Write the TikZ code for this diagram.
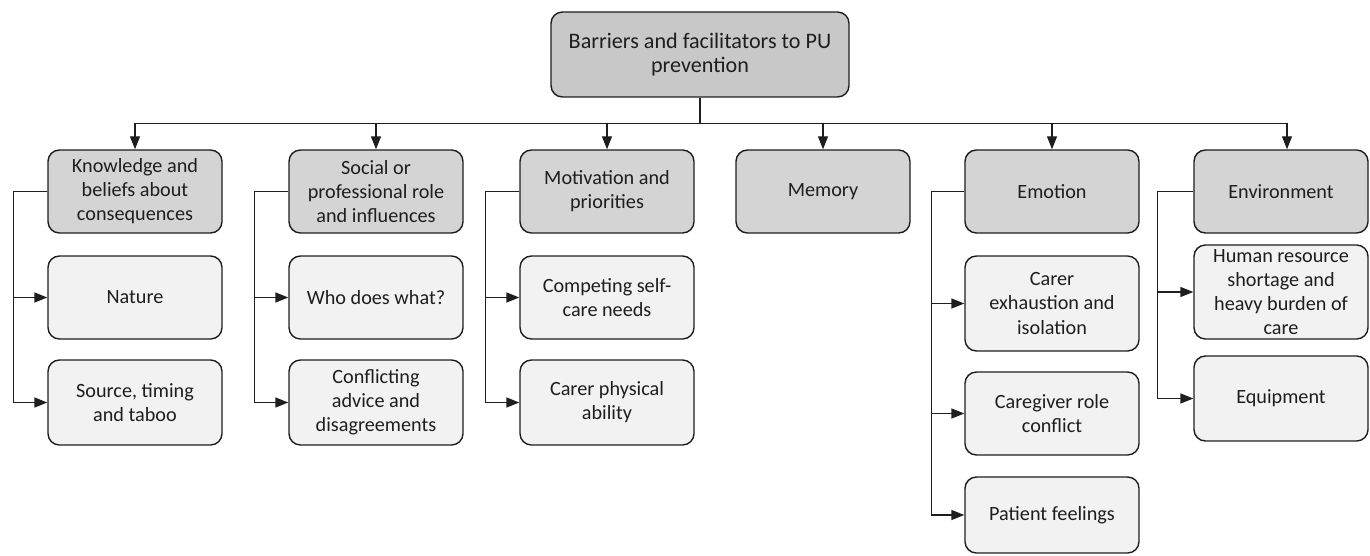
\documentclass[tikz,border=0pt]{standalone}
\usepackage{fontspec}
\setmainfont{Carlito}
\usetikzlibrary{arrows.meta,positioning}
\definecolor{ink}{RGB}{30,30,30}
\definecolor{topgray}{RGB}{200,200,200}
\definecolor{catgray}{RGB}{212,212,212}
\definecolor{subgray}{RGB}{242,242,242}
\tikzset{
  >={Triangle[length=2.6mm,width=2mm]},
  box/.style={draw=ink,fill=#1,rounded corners=6.5pt,line width=0.8pt,
    minimum width=34.8mm,align=center,font=\fontsize{11.5}{13.7}\selectfont,text=ink},
  box/.default=subgray,
  cat/.style={box=catgray,minimum height=16.6mm},
  sub/.style={box=subgray,minimum height=16.6mm},
  link/.style={->,line width=0.8pt,draw=ink},
}

\begin{document}
\begin{tikzpicture}
  \useasboundingbox (0,0) rectangle (27.4,-11.12);
  % root
  \node[box=topgray,minimum width=59.6mm,minimum height=17mm,font=\fontsize{12.6}{14}\selectfont] (top) at (14,-1.09) {Barriers and facilitators to PU\\prevention};
  % domains
  \node[cat] (know) at (2.7,-3.83) {Knowledge and\\beliefs about\\consequences};
  \node[cat] (role) at (7.52,-3.83) {Social or\\professional role\\and influences};
  \node[cat] (moti) at (12.14,-3.83) {Motivation and\\priorities};
  \node[cat] (memo) at (16.46,-3.83) {Memory};
  \node[cat] (emot) at (21.04,-3.83) {Emotion};
  \node[cat] (envi) at (25.62,-3.83) {Environment};
  % themes
  \node[sub] (natu) at (2.7,-5.95) {Nature};
  \node[sub,minimum height=17mm] (sour) at (2.7,-8.05) {Source, timing\\and taboo};
  \node[sub] (whod) at (7.52,-5.95) {Who does what?};
  \node[sub,minimum height=17mm] (conf) at (7.52,-8.05) {Conflicting\\advice and\\disagreements};
  \node[sub] (comp) at (12.14,-5.95) {Competing self-\\care needs};
  \node[sub,minimum height=17mm] (phys) at (12.14,-8.05) {Carer physical\\ability};
  \node[sub,minimum height=19mm] (exha) at (21.04,-6.07) {Carer\\exhaustion and\\isolation};
  \node[sub] (cgrc) at (21.04,-8.27) {Caregiver role\\conflict};
  \node[sub,minimum height=15.2mm] (pati) at (21.04,-10.3) {Patient feelings};
  \node[sub,minimum height=18.8mm,inner ysep=0pt] (huma) at (25.62,-5.84) {Human resource\\shortage and\\heavy burden of\\care};
  \node[sub,minimum height=17mm] (equi) at (25.62,-7.97) {Equipment};
  % root to domains
  \foreach \c/\xs in {know/0,role/0,moti/0,memo/0,emot/0,envi/0.12}
    \draw[link] (top.south) -- ++(0,-0.52) -| ([xshift=\xs cm]\c.north);
  % domains to themes
  \foreach \c/\s/\dx in {know/natu/0.68,know/sour/0.68,role/whod/0.68,role/conf/0.68,
      moti/comp/0.68,moti/phys/0.68,emot/exha/0.66,emot/cgrc/0.66,emot/pati/0.66,
      envi/huma/0.72,envi/equi/0.72}
    \draw[link] (\c.west) -- ++(-\dx,0) |- (\s.west);
\end{tikzpicture}
\end{document}
